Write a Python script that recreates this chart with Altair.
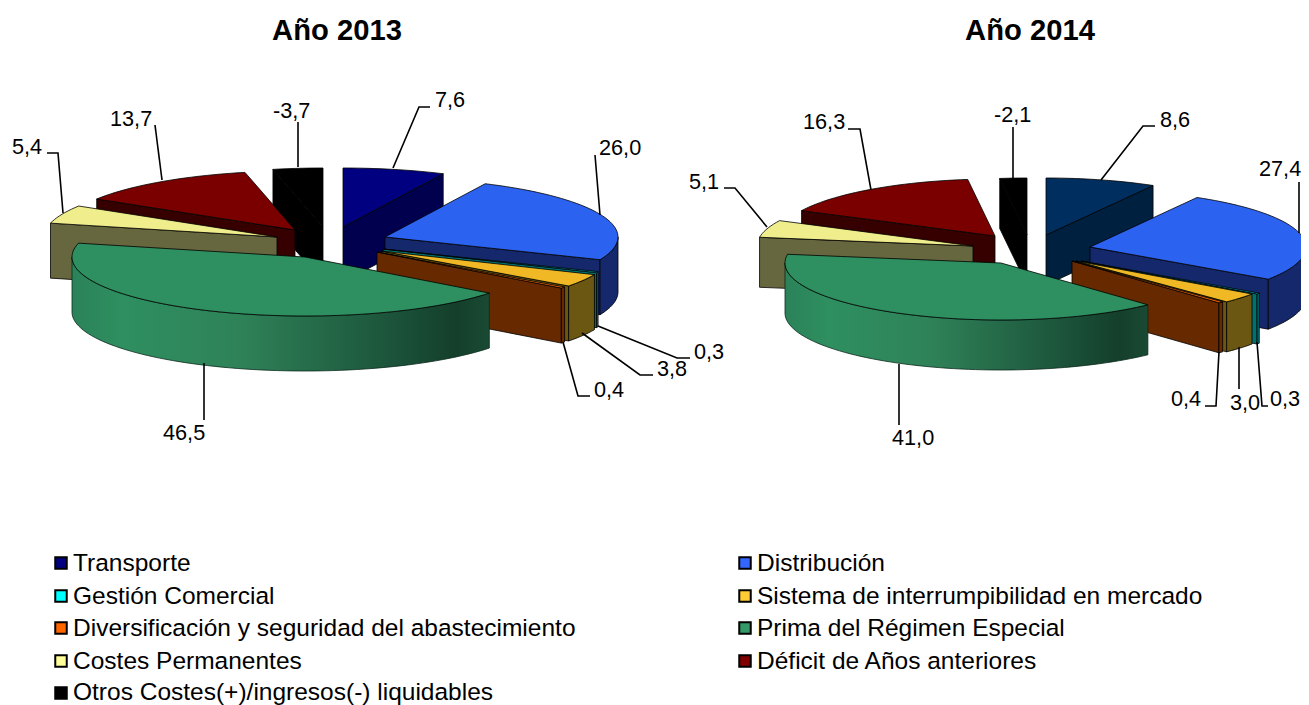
import math
import altair as alt

categories = ["Transporte", "Distribución", "Gestión Comercial",
              "Sistema de interrumpibilidad en mercado",
              "Diversificación y seguridad del abastecimiento",
              "Prima del Régimen Especial", "Costes Permanentes",
              "Déficit de Años anteriores",
              "Otros Costes(+)/ingresos(-) liquidables"]
values_2013 = [7.6, 26.0, 0.3, 3.8, 0.4, 46.5, 5.4, 13.7, -3.7]
values_2014 = [8.6, 27.4, 0.3, 3.0, 0.4, 41.0, 5.1, 16.3, -2.1]
titles = ["Año 2013", "Año 2014"]

W, H = 1293, 697
OFF = 8  # page margin


def tx(x):
    return x - OFF


def ty(y):
    return y - OFF


top_colors = ["#000080", "#2c62f0", "#00e0e0", "#f0b825", "#ff6600",
              "#2e8f60", "#f0ee8c", "#7a0000", "#000000"]
wall_colors = ["#00004f", "#14286b", "#007070", "#6b5712", "#662900",
               "#2e8f60", "#66663f", "#360000", "#000000"]
legend_colors = ["#000080", "#3366ff", "#00ffff", "#ffcc33", "#ff6600",
                 "#339966", "#ffff99", "#800000", "#000000"]

# painter's order, back to front
ORDER = [8, 0, 7, 1, 6, 2, 3, 4, 5]

PIES = [
    dict(values=values_2013, a=233, b=59, depth=55,
         top_colors=top_colors, wall_colors=wall_colors,
         apex=[(343, 227), (385, 237), (383, 249), (381, 251), (377, 252),
               (305, 257), (277, 237), (295, 230), (323, 227)]),
    dict(values=values_2014, a=216, b=57, depth=50,
         top_colors=["#002f5f"] + top_colors[1:],
         wall_colors=["#00203f"] + wall_colors[1:],
         apex=[(1046, 235), (1090, 247), (1081, 261), (1076, 261), (1072, 261),
               (1001, 263), (973, 246), (995, 236), (1027, 235)]),
]


def P(apex, a, b, t, dz=0):
    r = math.radians(t)
    return [apex[0] + a * math.sin(r), apex[1] - b * math.cos(r) + dz]


def arc(apex, a, b, t1, t2, dz=0):
    n = max(2, int(abs(t2 - t1) / 2) + 2)
    return [P(apex, a, b, t1 + (t2 - t1) * i / (n - 1), dz) for i in range(n)]


def feature(points, fill, stroke=None):
    ring = [list(p) for p in points]
    ring.append(ring[0])
    return {"type": "Feature",
            "geometry": {"type": "Polygon", "coordinates": [ring]},
            "properties": {"fill": fill, "stroke": stroke or "#000000"}}


def project(ch):
    return ch.project(type="identity", scale=1, translate=[-OFF, -OFF])


def shapes(features):
    return project(alt.Chart(alt.Data(values=features)).mark_geoshape(strokeWidth=0.8).encode(
        fill=alt.Fill("properties.fill:N", scale=None),
        stroke=alt.Stroke("properties.stroke:N", scale=None),
    ))


green_gradient = alt.Gradient(
    gradient="linear", x1=0, x2=1, y1=0, y2=0,
    stops=[alt.GradientStop(offset=0, color="#2b8259"),
           alt.GradientStop(offset=0.12, color="#2e8f60"),
           alt.GradientStop(offset=0.4, color="#2f8258"),
           alt.GradientStop(offset=0.7, color="#1f5c40"),
           alt.GradientStop(offset=0.92, color="#143f2b"),
           alt.GradientStop(offset=1, color="#1a4a33")])

layers = []
for pie in PIES:
    vals = [abs(v) for v in pie["values"]]
    total = sum(vals)
    a, b, d = pie["a"], pie["b"], pie["depth"]
    bounds, c = [], 0.0
    for v in vals:
        bounds.append((c / total * 360, (c + v) / total * 360))
        c += v
    back = []
    for i in ORDER:
        t1, t2 = bounds[i]
        ap = pie["apex"][i]
        feats = []
        wall = pie["wall_colors"][i]
        top = pie["top_colors"][i]
        # radial cut faces that look towards the viewer
        if t2 < 180:
            p = P(ap, a, b, t2)
            feats.append(feature([list(ap), p, [p[0], p[1] + d], [ap[0], ap[1] + d]], wall))
        if t1 > 180:
            p = P(ap, a, b, t1)
            feats.append(feature([list(ap), p, [p[0], p[1] + d], [ap[0], ap[1] + d]], wall))
        # outer rim
        lo, hi = max(t1, 90), min(t2, 270)
        rim = None
        if hi > lo:
            rim = arc(ap, a, b, lo, hi) + arc(ap, a, b, hi, lo, d)
        top_shape = feature([list(ap)] + arc(ap, a, b, t1, t2), top)
        if i == 5:
            layers.append(shapes(back + feats) if back + feats else None)
            back = []
            layers.append(project(
                alt.Chart(alt.Data(values=[feature(rim, "#000000")]))
                .mark_geoshape(fill=green_gradient, stroke="#0a2a1c", strokeWidth=0.8)))
            layers.append(shapes([top_shape]))
        else:
            if rim:
                feats.append(feature(rim, wall))
            feats.append(top_shape)
            back += feats
layers = [l for l in layers if l is not None]

# leader lines
leaders = [
    [(430, 107), (419, 107), (393, 168)],
    [(595, 155), (600, 215)],
    [(598, 326), (677, 358), (690, 358)],
    [(582, 333), (640, 375), (653, 375)],
    [(563, 342), (578, 396), (590, 396)],
    [(204, 363), (204, 420)],
    [(47, 153), (58, 153), (63, 213)],
    [(155, 125), (162, 180)],
    [(298, 122), (298, 167)],
    [(1155, 126), (1143, 126), (1101, 180)],
    [(1299, 182), (1299, 233)],
    [(1268, 406), (1262, 406), (1257, 342)],
    [(1239, 347), (1239, 389)],
    [(1205, 406), (1216, 406), (1219, 352)],
    [(899, 364), (899, 425)],
    [(724, 188), (735, 188), (767, 227)],
    [(848, 129), (860, 129), (871, 190)],
    [(1013, 127), (1013, 178)],
]
leader_rows = [dict(id=k, o=j, x=tx(p[0]), y=ty(p[1]))
               for k, line in enumerate(leaders) for j, p in enumerate(line)]

xs = alt.Scale(domain=[0, W], range=[0, W], nice=False, zero=False)
ys = alt.Scale(domain=[0, H], range=[0, H], nice=False, zero=False)
X = lambda f="x": alt.X(f"{f}:Q", scale=xs, axis=None)
Y = lambda f="y": alt.Y(f"{f}:Q", scale=ys, axis=None)

layers.append(
    alt.Chart(alt.Data(values=leader_rows)).mark_line(color="#000000", strokeWidth=1.6, interpolate="linear")
    .encode(x=X(), y=Y(), detail="id:N", order="o:Q"))


def fmt(v):
    return f"{v:.1f}".replace(".", ",")


# value labels: x position of left edge, y centre
label_pos_2013 = [(435, 100), (599, 148), (694, 352), (657, 369), (594, 390),
                  (163, 433), (12, 147), (110, 119), (273, 111)]
label_pos_2014 = [(1160, 120), (1259, 169), (1270, 399), (1230, 403), (1171, 399),
                  (892, 438), (689, 182), (803, 122), (994, 115)]
label_rows = []
for vals, pos in ((values_2013, label_pos_2013), (values_2014, label_pos_2014)):
    for v, p in zip(vals, pos):
        label_rows.append(dict(t=fmt(v), x=tx(p[0]), y=ty(p[1])))
layers.append(
    alt.Chart(alt.Data(values=label_rows))
    .mark_text(font="Liberation Sans", fontSize=21.7, align="left", baseline="middle", color="#000000")
    .encode(x=X(), y=Y(), text="t:N"))

# titles
title_rows = [dict(t=titles[0], x=tx(337), y=ty(30.5)), dict(t=titles[1], x=tx(1030), y=ty(30.5))]
layers.append(
    alt.Chart(alt.Data(values=title_rows))
    .mark_text(font="Liberation Sans", fontSize=29.2, fontWeight="bold", align="center", baseline="middle", color="#000000")
    .encode(x=X(), y=Y(), text="t:N"))

# legend, two columns
row_y = [563, 596, 628, 661, 693]
text_y = [564, 597, 629, 662, 692.5]
col_sym = [61, 745]
col_txt = [73, 757]
leg_rows = []
for i, name in enumerate(categories):
    r, c = i // 2, i % 2
    leg_rows.append(dict(t=name, c=legend_colors[i], sx=tx(col_sym[c]),
                         tx=tx(col_txt[c]), y=ty(row_y[r]), ty=ty(text_y[r])))
layers.append(
    alt.Chart(alt.Data(values=leg_rows))
    .mark_square(size=132, stroke="#000000", strokeWidth=2, opacity=1)
    .encode(x=X("sx"), y=Y(), fill=alt.Fill("c:N", scale=None)))
layers.append(
    alt.Chart(alt.Data(values=leg_rows))
    .mark_text(font="Liberation Sans", fontSize=24.5, align="left", baseline="middle", color="#000000")
    .encode(x=X("tx"), y=Y("ty"), text="t:N"))

chart = alt.layer(*layers).properties(
    width=W, height=H, padding=0, autosize=alt.AutoSizeParams(type="none"),
).configure_view(stroke=None)

chart.save("out.html", embed_options={"renderer": "svg", "actions": False})
